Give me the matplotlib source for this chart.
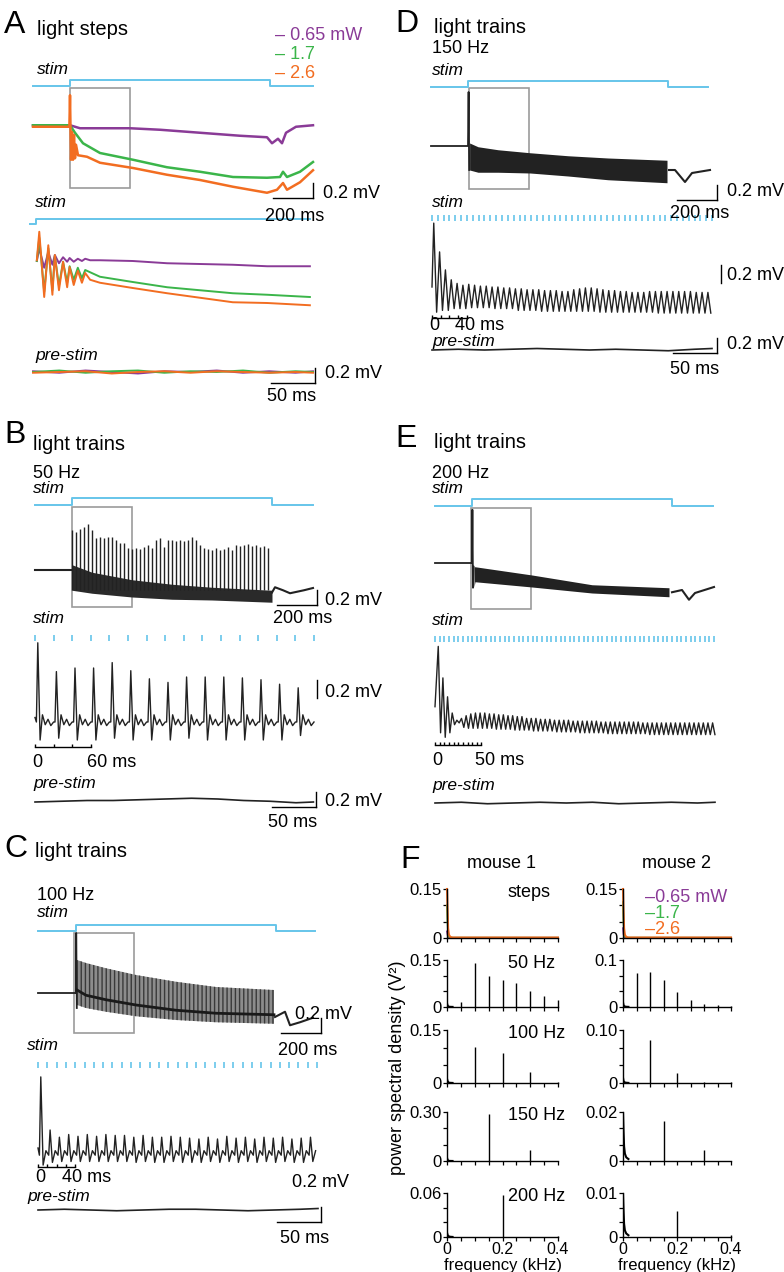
import numpy as np
import matplotlib.pyplot as plt
from matplotlib.patches import Rectangle

plt.rcParams['font.family'] = ['Liberation Sans', 'DejaVu Sans']

PURPLE, GREEN, ORANGE = '#8a3b97', '#3bb54a', '#f26d21'
STIM = '#66c5ea'
GREY = '#9b9b9b'

# ---------------- data (ms, mV) ----------------
stim_on, stim_off = 0, 1000
zoom_win = 300

# A: light steps, overview
a_t_purple = [-185, 0, 50, 150, 300, 450, 650, 850, 985, 1010, 1040, 1060, 1080, 1130, 1215]
a_v_purple = [0.01, 0.01, -0.03, -0.03, -0.03, -0.05, -0.09, -0.13, -0.15, -0.23, -0.17, -0.23, -0.09, -0.01, 0.01]
a_t_green = [-185, 0, 25, 65, 150, 315, 485, 650, 815, 985, 1050, 1065, 1085, 1150, 1215]
a_v_green = [0.01, 0.01, -0.09, -0.23, -0.36, -0.45, -0.55, -0.61, -0.68, -0.69, -0.68, -0.61, -0.68, -0.61, -0.48]
a_t_orange = [-185, -3, 0, 5, 10, 15, 20, 25, 30, 40, 85, 150, 315, 485, 650, 815, 985, 1035, 1065, 1085, 1150, 1215]
a_v_orange = [-0.01, -0.01, 0.41, -0.45, -0.08, -0.45, -0.12, -0.43, -0.25, -0.39, -0.41, -0.49, -0.56, -0.65,
              -0.72, -0.81, -0.89, -0.85, -0.76, -0.85, -0.75, -0.59]
# A: zoom on first 300 ms
az_t = [1, 4, 10, 15, 20, 23, 28, 33, 38, 41, 46, 51, 56, 60, 66, 78, 118, 160, 200, 240, 282, 334]
az_purple = [0, 0.17, -0.09, 0.12, -0.05, 0.08, -0.03, 0.05, -0.01, 0.04, -0.01, 0.03, 0, 0.03,
             0.01, 0.01, 0, -0.03, -0.04, -0.05, -0.07, -0.07]
az_green = [0, 0.31, -0.41, 0.17, -0.39, 0.07, -0.33, -0.01, -0.29, -0.07, -0.25, -0.09, -0.23, -0.12,
            -0.15, -0.21, -0.28, -0.35, -0.39, -0.43, -0.45, -0.48]
az_orange = [0.01, 0.39, -0.48, 0.21, -0.45, 0.08, -0.39, -0.01, -0.35, -0.08, -0.32, -0.13, -0.29, -0.16,
             -0.25, -0.29, -0.36, -0.43, -0.49, -0.55, -0.56, -0.59]

# pre-stim traces
pre_t = [0, 30, 60, 90, 120, 150, 180, 210, 240, 270, 300, 320]
pre_a_purple = [0.01, -0.01, 0.02, 0.0, -0.02, 0.01, 0.0, 0.02, -0.01, 0.01, -0.01, 0.01]
pre_a_green = [0.0, 0.02, -0.01, 0.01, 0.02, -0.01, 0.01, 0.0, 0.02, -0.01, 0.01, 0.0]
pre_a_orange = [-0.01, 0.0, 0.01, -0.02, 0.0, 0.01, -0.01, 0.01, 0.0, -0.01, 0.0, -0.01]
pre_b = [0.0, 0.01, 0.02, 0.02, 0.03, 0.04, 0.05, 0.04, 0.02, 0.01, -0.01, 0.0]
pre_c = [0.0, 0.01, 0.0, -0.01, 0.0, 0.01, 0.01, 0.0, -0.01, 0.0, 0.01, 0.02]
pre_d = [0.0, 0.01, 0.0, 0.01, 0.02, 0.01, 0.0, 0.01, 0.0, -0.01, 0.01, 0.02]
pre_e = [0.0, 0.01, -0.01, 0.0, 0.01, 0.0, 0.01, -0.01, 0.0, 0.01, 0.0, 0.01]

# B: 50 Hz train
b_freq = 50
b_band_t = [0, 100, 300, 500, 700, 1000]
b_band_lo = [-0.27, -0.31, -0.36, -0.39, -0.40, -0.43]
b_band_hi = [0.07, -0.03, -0.13, -0.19, -0.23, -0.27]
b_spikes = [0.53, 0.51, 0.55, 0.57, 0.61, 0.53, 0.43, 0.44, 0.43, 0.44, 0.44, 0.40, 0.36, 0.36, 0.29, 0.28, 0.29,
            0.28, 0.31, 0.33, 0.29, 0.40, 0.43, 0.31, 0.40, 0.40, 0.39, 0.40, 0.39, 0.40, 0.44, 0.40, 0.33, 0.29,
            0.28, 0.27, 0.29, 0.27, 0.28, 0.31, 0.27, 0.33, 0.32, 0.33, 0.35, 0.32, 0.33, 0.31, 0.32, 0.29]
b_post_t = [1000, 1015, 1055, 1090, 1125, 1160, 1205]
b_post_v = [-0.30, -0.23, -0.27, -0.31, -0.29, -0.27, -0.24]
bz_peaks = [0.88, 0.56, 0.60, 0.60, 0.66, 0.57, 0.48, 0.44, 0.50, 0.50, 0.50, 0.49, 0.47, 0.42, 0.38]
bz_troughs = [-0.20, -0.18, -0.20, -0.20, -0.18, -0.20, -0.20, -0.20, -0.18, -0.20, -0.20, -0.20, -0.20, -0.20, -0.15]

# C: 100 Hz train
c_freq = 100
c_onset_t = [-190, 0, 1, 4]
c_onset_v = [0, 0, 0.80, -0.20]
c_band_t = [5, 50, 150, 300, 500, 700, 990]
c_band_hi = [0.44, 0.40, 0.33, 0.24, 0.15, 0.08, 0.04]
c_band_lo = [-0.16, -0.20, -0.25, -0.31, -0.36, -0.39, -0.41]
c_band_mid = [0.04, -0.03, -0.09, -0.16, -0.23, -0.27, -0.29]
c_post_t = [995, 1045, 1070, 1120, 1185]
c_post_v = [-0.32, -0.25, -0.43, -0.39, -0.33]
cz_peaks = [0.79, 0.20, 0.12, 0.15, 0.13, 0.15, 0.13, 0.15, 0.14, 0.14, 0.12, 0.14, 0.12, 0.12, 0.13,
            0.12, 0.11, 0.10, 0.12, 0.10, 0.13, 0.11, 0.12, 0.10, 0.12, 0.11, 0.12, 0.10, 0.11, 0.12]
cz_troughs = [-0.19, -0.16, -0.15, -0.15, -0.15, -0.15, -0.15, -0.15, -0.15, -0.15, -0.16, -0.15, -0.16, -0.16,
              -0.15, -0.16, -0.16, -0.16, -0.15, -0.16, -0.15, -0.16, -0.15, -0.16, -0.15, -0.16, -0.15, -0.16,
              -0.16, -0.15]

# D: 150 Hz train
d_freq = 150
d_onset_t = [-185, 0, 3, 6]
d_onset_v = [0, 0, 0.72, -0.32]
d_band_t = [8, 50, 150, 310, 500, 700, 995]
d_band_hi = [0.04, -0.01, -0.05, -0.09, -0.13, -0.16, -0.19]
d_band_lo = [-0.32, -0.35, -0.35, -0.36, -0.40, -0.45, -0.49]
d_post_t = [1005, 1035, 1085, 1120, 1210]
d_post_v = [-0.32, -0.32, -0.48, -0.36, -0.32]
dz_peaks = [0.71, 0.39, 0.19, 0.08, 0.04, 0.02, 0.03, 0.02, 0.01, 0.01, 0.0, 0.0, -0.01, -0.01, -0.02, -0.02,
            -0.03, -0.03, -0.03, -0.04, -0.04, -0.04, -0.05, -0.05, -0.03, -0.02, -0.01, -0.01, -0.02, -0.03,
            -0.04, -0.04, -0.05, -0.05, -0.06, -0.06, -0.06, -0.05, -0.05, -0.05, -0.05, -0.05, -0.05, -0.05,
            -0.05, -0.06, -0.06, -0.06]
dz_troughs = [-0.28, -0.26, -0.26, -0.24, -0.24, -0.24, -0.23, -0.23, -0.23, -0.23, -0.24, -0.24, -0.24, -0.24,
              -0.26, -0.26, -0.26, -0.26, -0.27, -0.27, -0.27, -0.27, -0.27, -0.27, -0.27, -0.27, -0.27, -0.27,
              -0.28, -0.28, -0.28, -0.28, -0.28, -0.28, -0.28, -0.28, -0.28, -0.28, -0.29, -0.29, -0.29, -0.29,
              -0.29, -0.29, -0.29, -0.29, -0.29, -0.29]

# E: 200 Hz train
e_freq = 200
e_onset_t = [-185, 0, 2, 5, 8]
e_onset_v = [0, 0, 0.71, -0.33, -0.05]
e_band_t = [10, 15, 300, 600, 985]
e_band_hi = [-0.05, -0.05, -0.16, -0.29, -0.33]
e_band_lo = [-0.32, -0.25, -0.32, -0.40, -0.45]
e_post_t = [1000, 1050, 1085, 1115, 1210]
e_post_v = [-0.39, -0.36, -0.49, -0.40, -0.32]
ez_peaks = [0.84, 0.49, 0.28, 0.10, 0.02, 0.04, 0.07, 0.09, 0.10, 0.10, 0.10, 0.09, 0.09, 0.08, 0.08, 0.07,
            0.07, 0.06, 0.06, 0.04, 0.04, 0.04, 0.03, 0.03, 0.03, 0.02, 0.02, 0.02, 0.02, 0.01, 0.01, 0.01,
            0.01, 0.01, 0.01, 0.0, 0.0, 0.0, 0.0, 0.0, 0.0, 0.0, 0.0, 0.0, -0.01, -0.01, -0.01, -0.01, -0.01,
            -0.01, -0.01, -0.01, -0.01, -0.01, -0.01, -0.01, -0.01, -0.01, -0.01, -0.01]
ez_troughs = [-0.12, -0.17, -0.12, -0.03, -0.01, -0.06, -0.07, -0.07, -0.07, -0.07, -0.07, -0.07, -0.08, -0.08,
              -0.08, -0.08, -0.09, -0.09, -0.09, -0.09, -0.10, -0.10, -0.10, -0.10, -0.10, -0.11, -0.11, -0.11,
              -0.11, -0.11, -0.12, -0.12, -0.12, -0.12, -0.12, -0.12, -0.13, -0.13, -0.13, -0.13, -0.13, -0.13,
              -0.13, -0.13, -0.13, -0.14, -0.14, -0.14, -0.14, -0.14, -0.14, -0.14, -0.14, -0.14, -0.14, -0.14,
              -0.14, -0.14, -0.14, -0.14]

# F: power spectral density (V^2), frequency in kHz
low_f = [0, 0.002, 0.004, 0.007, 0.012, 0.02, 0.4]
steps_m1 = {'purple': [0.02, 0.01, 0.004, 0.002, 0.001, 0.0005, 0.0005],
            'green': [0.10, 0.05, 0.015, 0.005, 0.002, 0.001, 0.0008],
            'orange': [0.15, 0.09, 0.03, 0.01, 0.003, 0.0015, 0.0015]}
steps_m2 = {'purple': [0.03, 0.012, 0.005, 0.002, 0.001, 0.0005, 0.0005],
            'green': [0.11, 0.05, 0.015, 0.005, 0.002, 0.001, 0.0008],
            'orange': [0.15, 0.08, 0.03, 0.01, 0.003, 0.0015, 0.0015]}
train_rates = [50, 100, 150, 200]
m1_low = [[0.012, 0.005, 0.002, 0.001, 0.0005, 0.0003],
          [0.012, 0.006, 0.002, 0.001, 0.0005, 0.0002],
          [0.02, 0.008, 0.003, 0.001, 0.0005, 0.0002],
          [0.006, 0.003, 0.0015, 0.0008, 0.0003, 0.0001]]
m2_low = [[0.01, 0.004, 0.002, 0.001, 0.0005, 0.0003],
          [0.01, 0.004, 0.002, 0.001, 0.0005, 0.0002],
          [0.02, 0.012, 0.006, 0.003, 0.0015, 0.0008],
          [0.01, 0.006, 0.003, 0.0015, 0.0008, 0.0004]]
m1_peaks = [[0.016, 0.139, 0.099, 0.086, 0.077, 0.051, 0.034, 0.021],
            [0.103, 0.084, 0.031, 0.002],
            [0.29, 0.07],
            [0.057, 0.001]]
m2_peaks = [[0.073, 0.074, 0.057, 0.032, 0.015, 0.007, 0.004, 0.002],
            [0.082, 0.018, 0.002, 0.001],
            [0.0164, 0.0046],
            [0.006, 0.0005]]
m1_ymax = [0.15, 0.15, 0.15, 0.30, 0.06]
m2_ymax = [0.15, 0.1, 0.10, 0.02, 0.01]
m1_ylab = ['0.15', '0.15', '0.15', '0.30', '0.06']
m2_ylab = ['0.15', '0.1', '0.10', '0.02', '0.01']
row_names = ['steps', '50 Hz', '100 Hz', '150 Hz', '200 Hz']

# ---------------- figure ----------------
W, H = 784, 1272
fig = plt.figure(figsize=(W / 100, H / 100), dpi=100)


def trace_ax(x0, y0, px_ms, px_mv):
    ax = fig.add_axes([0, 0, 1, 1])
    ax.set_xlim(-x0 / px_ms, (W - x0) / px_ms)
    ax.set_ylim(-(H - y0) / px_mv, y0 / px_mv)
    ax.axis('off')
    ax.patch.set_visible(False)
    ax.px = (x0, y0, px_ms, px_mv)
    return ax


def tx(ax, x):
    return (x - ax.px[0]) / ax.px[2]


def ty(ax, y):
    return (ax.px[1] - y) / ax.px[3]


def txt(x, y, s, size=13, ha='left', style='normal', color='k', va='baseline', **kw):
    fig.text(x / W, 1 - y / H, s, fontsize=size, ha=ha, va=va, style=style, color=color, **kw)


def stim_step(ax, t0, t1, y_lo, y_hi):
    lo, hi = ty(ax, y_lo), ty(ax, y_hi)
    ax.plot([t0, stim_on, stim_on, stim_off, stim_off, t1], [lo, lo, hi, hi, lo, lo], color=STIM, lw=1.4)


def stim_ticks(ax, freq, y_lo, y_hi, t_end):
    period = 1000 / freq
    n = int(t_end / period + 1e-6) + 1
    ax.vlines(np.arange(n) * period, ty(ax, y_lo), ty(ax, y_hi), color=STIM, lw=1.2)


def zoom_box(ax, t0, y_top, y_bot):
    ax.add_patch(Rectangle((t0, ty(ax, y_bot)), zoom_win, ty(ax, y_top) - ty(ax, y_bot),
                           fill=False, ec=GREY, lw=1.2))


def scalebar(ax, x, y, ms=None, mv=None):
    t, v = tx(ax, x), ty(ax, y)
    if ms:
        ax.plot([t - ms, t], [v, v], color='k', lw=1)
    if mv:
        ax.plot([t, t], [v, v + mv], color='k', lw=1)


def timebar(ax, y, length, step):
    v = ty(ax, y)
    ax.plot([0, length], [v, v], color='k', lw=1)
    ax.vlines(np.arange(0, length + 0.1, step), v, v + 3 / ax.px[3], color='k', lw=1)


def cycle_trace(t_first, period, peaks, troughs, shape_dt, shape_v, v_start):
    t, v = [0], [v_start]
    for i, (p, q) in enumerate(zip(peaks, troughs)):
        t0 = t_first + i * period
        for dt, sv in zip(shape_dt, shape_v):
            t.append(t0 + dt)
            v.append(p if sv == 'P' else q if sv == 'T' else sv)
    return t, v


# ---- A overview
ax = trace_ax(70, 126, 0.2, 75)
stim_step(ax, -185, 1215, 86, 80)
zoom_box(ax, 0, 88, 188)
ax.plot(a_t_purple, a_v_purple, color=PURPLE, lw=1.8)
ax.plot(a_t_green, a_v_green, color=GREEN, lw=1.8)
ax.plot(a_t_orange, a_v_orange, color=ORANGE, lw=1.8)
scalebar(ax, 313, 198, ms=200, mv=0.2)
# A zoom
ax = trace_ax(36, 261, 0.82, 75)
lo, hi = ty(ax, 224), ty(ax, 219)
ax.plot([-7, 0, 0, 334], [lo, lo, hi, hi], color=STIM, lw=1.4)
ax.plot(az_t, az_purple, color=PURPLE, lw=1.4)
ax.plot(az_t, az_green, color=GREEN, lw=1.4)
ax.plot(az_t, az_orange, color=ORANGE, lw=1.4)
# A pre-stim
ax = trace_ax(33, 372, 0.875, 75)
ax.plot(pre_t, pre_a_purple, color=PURPLE, lw=1.4)
ax.plot(pre_t, pre_a_green, color=GREEN, lw=1.4)
ax.plot(pre_t, pre_a_orange, color=ORANGE, lw=1.4)
scalebar(ax, 315, 383, ms=50, mv=0.2)

txt(4, 33, 'A', size=23)
txt(37, 35, 'light steps', size=14.5)
txt(275, 40, '– 0.65 mW', color=PURPLE)
txt(275, 59, '– 1.7', color=GREEN)
txt(275, 78, '– 2.6', color=ORANGE)
txt(37, 74, 'stim', size=12.5, style='italic')
txt(323, 198, '0.2 mV')
txt(295, 221, '200 ms', ha='center')
txt(35, 207, 'stim', size=12.5, style='italic')
txt(35, 360, 'pre-stim', size=12.5, style='italic')
txt(325, 378, '0.2 mV')
txt(292, 401, '50 ms', ha='center')

# ---- B overview
ax = trace_ax(72, 570, 0.2, 75)
stim_step(ax, -185, 1205, 505, 498)
zoom_box(ax, 0, 507, 607)
ax.plot([-185, 0], [0, 0], color='#222222', lw=1.5)
ax.fill_between(b_band_t, b_band_lo, b_band_hi, color='#2a2a2a', lw=0)
ax.vlines(np.arange(len(b_spikes)) * 1000 / b_freq, -0.27, b_spikes, color='#222222', lw=1)
ax.plot(b_post_t, b_post_v, color='#222222', lw=1.5)
scalebar(ax, 317, 605, ms=200, mv=0.2)
# B zoom
ax = trace_ax(35, 722, 0.93, 90)
stim_ticks(ax, b_freq, 641, 635, zoom_win)
t, v = cycle_trace(3, 1000 / b_freq, bz_peaks, bz_troughs,
                   [-1.5, 0, 2.5, 5, 8, 11, 14, 17], [0, 'P', 'T', 0.08, -0.03, 0.03, -0.04, 0.0], 0.05)
ax.plot(t, v, color='#222222', lw=1)
scalebar(ax, 317, 698, mv=0.2)
timebar(ax, 747, 60, 20)
# B pre-stim
ax = trace_ax(35, 802, 0.87, 75)
ax.plot(pre_t, pre_b, color='#222222', lw=1.2)
scalebar(ax, 316, 807, ms=50, mv=0.2)

txt(4, 443, 'B', size=23)
txt(33, 450, 'light trains', size=14.5)
txt(33, 478, '50 Hz')
txt(33, 493, 'stim', size=12.5, style='italic')
txt(325, 605, '0.2 mV')
txt(303, 623, '200 ms', ha='center')
txt(33, 623, 'stim', size=12.5, style='italic')
txt(325, 697, '0.2 mV')
txt(37, 767, '0', ha='center')
txt(87, 767, '60 ms')
txt(33, 788, 'pre-stim', size=12.5, style='italic')
txt(325, 806, '0.2 mV')
txt(293, 827, '50 ms', ha='center')

# ---- C overview
ax = trace_ax(76, 993, 0.2, 75)
stim_step(ax, -190, 1195, 931, 925)
zoom_box(ax, -10, 933, 1033)
ax.plot(c_onset_t, c_onset_v, color='#222222', lw=1.3)
ax.fill_between(c_band_t, c_band_lo, c_band_hi, facecolor='#8c8c8c', edgecolor='#3a3a3a', hatch='||||', lw=0)
ax.plot(c_band_t, c_band_mid, color='#1a1a1a', lw=2)
ax.plot(c_post_t, c_post_v, color='#222222', lw=1.5)
scalebar(ax, 321, 1033, ms=200, mv=0.2)
# C zoom
ax = trace_ax(38, 1148, 0.93, 90)
stim_ticks(ax, c_freq, 1068, 1062, zoom_win)
t, v = cycle_trace(3, 1000 / c_freq, cz_peaks, cz_troughs, [-1.5, 0, 2.5, 5.5], [-0.08, 'P', 'T', -0.03], 0.0)
ax.plot(t, v, color='#222222', lw=1)
timebar(ax, 1167, 40, 10)
# C pre-stim
ax = trace_ax(38, 1210, 0.875, 75)
ax.plot(pre_t, pre_c, color='#222222', lw=1.2)
scalebar(ax, 321, 1222, ms=50, mv=0.2)

txt(4, 857, 'C', size=23)
txt(35, 857, 'light trains', size=14.5)
txt(37, 900, '100 Hz')
txt(37, 917, 'stim', size=12.5, style='italic')
txt(295, 1019, '0.2 mV')
txt(308, 1055, '200 ms', ha='center')
txt(27, 1050, 'stim', size=12.5, style='italic')
txt(40, 1182, '0', ha='center')
txt(62, 1182, '40 ms')
txt(27, 1201, 'pre-stim', size=12.5, style='italic')
txt(292, 1187, '0.2 mV')
txt(305, 1243, '50 ms', ha='center')

# ---- D overview
ax = trace_ax(468, 146, 0.2, 75)
stim_step(ax, -185, 1200, 87, 81)
zoom_box(ax, 5, 88, 189)
ax.plot(d_onset_t, d_onset_v, color='#222222', lw=1.3)
ax.fill_between(d_band_t, d_band_lo, d_band_hi, color='#222222', lw=0)
ax.plot(d_post_t, d_post_v, color='#222222', lw=1.5)
scalebar(ax, 717, 200, ms=200, mv=0.2)
# D zoom
ax = trace_ax(432, 287, 0.875, 90)
stim_ticks(ax, d_freq, 221, 215, 322)
t, v = cycle_trace(2, 1000 / d_freq, dz_peaks, dz_troughs, [0, 3.3], ['P', 'T'], 0.0)
ax.plot(t, v, color='#222222', lw=1)
scalebar(ax, 721, 283, mv=0.2)
timebar(ax, 318, 40, 10)
# D pre-stim
ax = trace_ax(432, 350, 0.875, 75)
ax.plot(pre_t, pre_d, color='#222222', lw=1.2)
scalebar(ax, 717, 353, ms=50, mv=0.2)

txt(395, 32, 'D', size=23)
txt(434, 33, 'light trains', size=14.5)
txt(432, 53, '150 Hz')
txt(432, 75, 'stim', size=12.5, style='italic')
txt(727, 196, '0.2 mV')
txt(700, 218, '200 ms', ha='center')
txt(432, 207, 'stim', size=12.5, style='italic')
txt(727, 280, '0.2 mV')
txt(434, 330, '0', ha='center')
txt(455, 330, '40 ms')
txt(432, 346, 'pre-stim', size=12.5, style='italic')
txt(727, 349, '0.2 mV')
txt(695, 374, '50 ms', ha='center')

# ---- E overview
ax = trace_ax(472, 563, 0.2, 75)
stim_step(ax, -185, 1205, 506, 499)
zoom_box(ax, -5, 508, 609)
ax.plot(e_onset_t, e_onset_v, color='#222222', lw=1.3)
ax.fill_between(e_band_t, e_band_lo, e_band_hi, color='#222222', lw=0)
ax.plot(e_post_t, e_post_v, color='#222222', lw=1.5)
# E zoom
ax = trace_ax(435, 722, 0.93, 90)
stim_ticks(ax, e_freq, 642, 636, zoom_win)
t, v = cycle_trace(3.5, 1000 / e_freq, ez_peaks, ez_troughs, [0, 2.5], ['P', 'T'], 0.17)
ax.plot(t, v, color='#222222', lw=1)
timebar(ax, 745, 50, 5)
# E pre-stim
ax = trace_ax(435, 803, 0.875, 75)
ax.plot(pre_t, pre_e, color='#222222', lw=1.2)

txt(395, 447, 'E', size=23)
txt(434, 448, 'light trains', size=14.5)
txt(432, 478, '200 Hz')
txt(432, 493, 'stim', size=12.5, style='italic')
txt(432, 625, 'stim', size=12.5, style='italic')
txt(437, 765, '0', ha='center')
txt(475, 765, '50 ms')
txt(432, 790, 'pre-stim', size=12.5, style='italic')

# ---- F: PSD
rows_y = [(889, 938), (960, 1007), (1030, 1083), (1112, 1161), (1193, 1237)]
cols_x = [(447, 558), (623, 731)]
for c, (x0, x1) in enumerate(cols_x):
    ymaxs = m1_ymax if c == 0 else m2_ymax
    ylabs = m1_ylab if c == 0 else m2_ylab
    steps = steps_m1 if c == 0 else steps_m2
    lows = m1_low if c == 0 else m2_low
    peaks = m1_peaks if c == 0 else m2_peaks
    for r, (y0, y1) in enumerate(rows_y):
        ax = fig.add_axes([x0 / W, 1 - y1 / H, (x1 - x0) / W, (y1 - y0) / H])
        ax.patch.set_visible(False)
        ymax = ymaxs[r]
        ax.set_xlim(0, 0.4)
        ax.set_ylim(0, ymax)
        for s in ['top', 'right']:
            ax.spines[s].set_visible(False)
        for s in ['left', 'bottom']:
            ax.spines[s].set_linewidth(1)
        ax.set_xticks(np.arange(0, 0.401, 0.05))
        if r == len(rows_y) - 1:
            ax.set_xticklabels(['0', '', '', '', '0.2', '', '', '', '0.4'])
        else:
            ax.set_xticklabels([])
        ax.set_yticks([0, ymax / 3, 2 * ymax / 3, ymax])
        ax.set_yticklabels(['0', '', '', ylabs[r]])
        ax.tick_params(length=3, width=0.9, labelsize=12, pad=1)
        ax.tick_params(axis='x', labelsize=11.5, pad=0.5)
        if r == 0:
            ax.plot(low_f, steps['purple'], color=PURPLE, lw=1.3, clip_on=False)
            ax.plot(low_f, steps['green'], color=GREEN, lw=1.3, clip_on=False)
            ax.plot(low_f, steps['orange'], color=ORANGE, lw=1.5, clip_on=False)
        else:
            rate = train_rates[r - 1]
            pk = peaks[r - 1]
            ax.plot(low_f[:-1], lows[r - 1], color='k', lw=1.5)
            ax.vlines(np.arange(1, len(pk) + 1) * rate / 1000, 0, pk, color='k', lw=1, clip_on=False)
        if c == 0:
            fig.text(508 / W, 1 - (y0 + 8) / H, row_names[r], fontsize=13, ha='left', va='baseline')
    fig.text((x0 + x1) / 2 / W, 1 - 1270 / H, 'frequency (kHz)', fontsize=12, ha='center', va='baseline')

txt(400, 868, 'F', size=23)
txt(502, 868, 'mouse 1', ha='center')
txt(676, 868, 'mouse 2', ha='center')
txt(645, 902, '–0.65 mW', color=PURPLE)
txt(645, 918, '–1.7', color=GREEN)
txt(645, 934, '–2.6', color=ORANGE)
txt(398, 1068, 'power spectral density (V²)', ha='center', va='center', rotation=90)

fig.savefig('out.png', dpi=100)
